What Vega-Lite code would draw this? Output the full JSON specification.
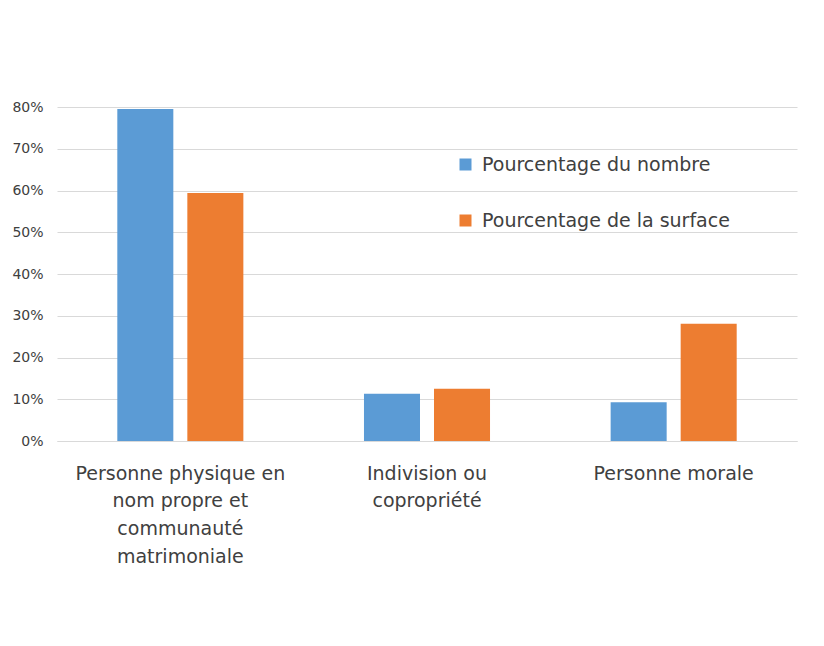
{
  "$schema": "https://vega.github.io/schema/vega-lite/v6.json",
  "width": 740,
  "height": 334,
  "autosize": {"type": "none"},
  "padding": {"left": 57, "top": 107, "right": 27, "bottom": 205},
  "background": "white",
  "config": {
    "view": {"stroke": null},
    "font": "DejaVu Sans"
  },
  "data": {
    "values": [
      {"categorie": "Personne physique en nom propre et communauté matrimoniale", "serie": "Pourcentage du nombre", "valeur": 0.795},
      {"categorie": "Personne physique en nom propre et communauté matrimoniale", "serie": "Pourcentage de la surface", "valeur": 0.594},
      {"categorie": "Indivision ou copropriété", "serie": "Pourcentage du nombre", "valeur": 0.113},
      {"categorie": "Indivision ou copropriété", "serie": "Pourcentage de la surface", "valeur": 0.125},
      {"categorie": "Personne morale", "serie": "Pourcentage du nombre", "valeur": 0.093},
      {"categorie": "Personne morale", "serie": "Pourcentage de la surface", "valeur": 0.281}
    ]
  },
  "mark": {"type": "bar"},
  "encoding": {
    "x": {
      "field": "categorie",
      "type": "nominal",
      "sort": null,
      "scale": {"paddingInner": 0.489, "paddingOuter": 0.2445},
      "axis": {
        "title": null,
        "labelAngle": 0,
        "labelFontSize": 19,
        "labelColor": "#404040",
        "labelLineHeight": 27.7,
        "labelPadding": 23,
        "labelLimit": 0,
        "ticks": false,
        "domainColor": "#d9d9d9",
        "labelExpr": "datum.value == 'Personne physique en nom propre et communauté matrimoniale' ? ['Personne physique en', 'nom propre et', 'communauté', 'matrimoniale'] : datum.value == 'Indivision ou copropriété' ? ['Indivision ou', 'copropriété'] : datum.value"
      }
    },
    "xOffset": {
      "field": "serie",
      "type": "nominal",
      "sort": ["Pourcentage du nombre", "Pourcentage de la surface"],
      "scale": {"paddingInner": 0.2, "paddingOuter": 0}
    },
    "y": {
      "field": "valeur",
      "type": "quantitative",
      "scale": {"domain": [0, 0.8]},
      "axis": {
        "title": null,
        "format": ".0%",
        "values": [0, 0.1, 0.2, 0.3, 0.4, 0.5, 0.6, 0.7, 0.8],
        "labelFontSize": 14,
        "labelColor": "#404040",
        "labelPadding": 14,
        "labelLimit": 0,
        "ticks": false,
        "domain": false,
        "gridColor": "#d9d9d9"
      }
    },
    "color": {
      "field": "serie",
      "type": "nominal",
      "sort": ["Pourcentage du nombre", "Pourcentage de la surface"],
      "scale": {"range": ["#5b9bd5", "#ed7d31"]},
      "legend": {
        "title": null,
        "orient": "none",
        "legendX": 399,
        "legendY": 48,
        "symbolType": "square",
        "symbolSize": 144,
        "symbolStrokeWidth": 0,
        "labelFontSize": 19,
        "labelColor": "#404040",
        "labelOffset": 7,
        "labelLimit": 0,
        "rowPadding": 36
      }
    }
  }
}
